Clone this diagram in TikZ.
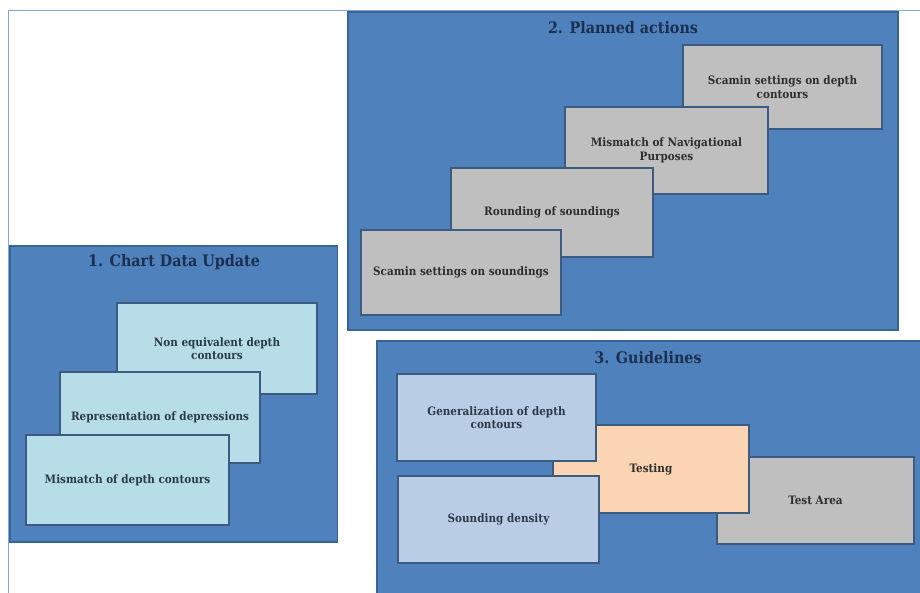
\documentclass[tikz,border=0pt]{standalone}
\usepackage{tikz}
\usepackage{fontspec}
\setmainfont{DejaVu Serif Condensed}
\definecolor{panelfill}{HTML}{4F81BD}
\definecolor{paneldraw}{HTML}{3A6494}
\definecolor{framecol}{HTML}{7FA7D8}
\definecolor{cyanbox}{HTML}{B7DDE8}
\definecolor{greybox}{HTML}{BFBFBF}
\definecolor{bluebox}{HTML}{B9CDE5}
\definecolor{peachbox}{HTML}{FBD4B4}
\definecolor{boxdraw}{HTML}{3D5A80}
\definecolor{titlecol}{HTML}{1B2F4F}
\definecolor{textcol}{HTML}{2B3A4A}
\definecolor{greytext}{HTML}{2E2E2E}
\tikzset{
  panel/.style={draw=paneldraw, fill=panelfill, line width=1.2pt, inner sep=0pt, outer sep=0pt},
  ptitle/.style={text=titlecol, font=\fontsize{15.9}{18}\selectfont\bfseries, inner sep=0pt},
  card/.style={draw=boxdraw, line width=1.6pt, inner sep=0pt, outer sep=0pt, align=center,
     font=\fontsize{11.6}{13.5}\selectfont\bfseries, text=textcol},
  cyancard/.style={card, fill=cyanbox},
  greycard/.style={card, fill=greybox, text=greytext},
  bluecard/.style={card, fill=bluebox},
  peachcard/.style={card, fill=peachbox, text=greytext},
}
\newcommand{\cardat}[7]{% style, name, x1, y1, x2, y2, text
  \node[#1, minimum width={(#5-#3)*1pt}, minimum height={(#6-#4)*1pt}] (#2) at ({(#3+#5)/2},{(#4+#6)/2}) {#7};}
\begin{document}
\begin{tikzpicture}[x=1pt,y=-1pt]
\useasboundingbox (0,0) rectangle (920,592);
\fill[white] (0,0) rectangle (920,592);
% outer frame
\draw[framecol, line width=1.8pt] (8.5,600) -- (8.5,10.5) -- (930,10.5);
% panels
\draw[panel] (10,246) rectangle (337.5,542);
\draw[panel] (348,12) rectangle (898,330);
\draw[panel] (377,341) rectangle (930,600);
% titles
\node[ptitle] (t1) at (174,262) {1. Chart Data Update};
\node[ptitle] (t2) at (623,27.5) {2. Planned actions};
\node[ptitle] (t3) at (648,357.5) {3. Guidelines};
% panel 1 cards
\cardat{cyancard}{c1}{117}{303}{317}{394}{Non equivalent depth\\contours}
\cardat{cyancard}{c2}{60}{372}{260}{463}{Representation of depressions}
\cardat{cyancard}{c3}{26}{435}{229}{525}{Mismatch of depth contours}
% panel 2 cards
\cardat{greycard}{g1}{683}{45}{882}{129}{Scamin settings on depth\\contours}
\cardat{greycard}{g2}{565}{107}{768}{194}{Mismatch of Navigational\\Purposes}
\cardat{greycard}{g3}{451}{168}{653}{257}{Rounding of soundings}
\cardat{greycard}{g4}{361}{230}{561}{315}{Scamin settings on soundings}
% panel 3 cards
\cardat{greycard}{ta}{717}{457}{914}{544}{Test Area}
\cardat{peachcard}{te}{553}{425}{749}{513}{Testing}
\cardat{bluecard}{ge}{397}{374}{596}{461}{Generalization of depth\\contours}
\cardat{bluecard}{sd}{398}{476}{599}{563}{Sounding density}
\end{tikzpicture}
\end{document}
